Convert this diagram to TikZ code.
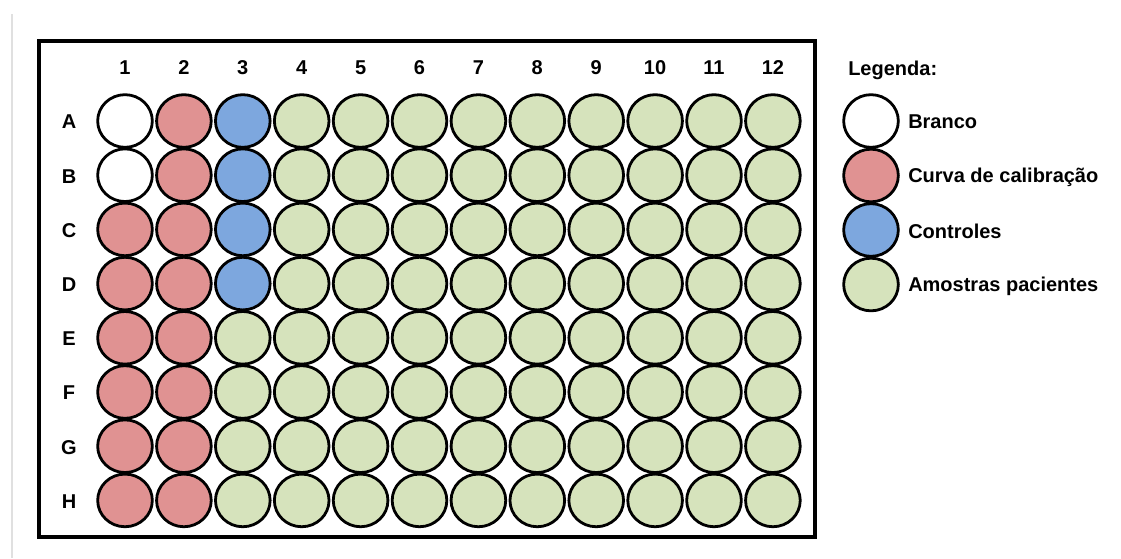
\documentclass[tikz,border=0pt]{standalone}
\usepackage{fontspec}
\setmainfont{Liberation Sans}
\usetikzlibrary{shapes.geometric}
\definecolor{wred}{RGB}{224,146,146}
\definecolor{wblue}{RGB}{125,167,222}
\definecolor{wgreen}{RGB}{214,227,188}
\tikzset{
  well/.style={ellipse, draw=black, line width=2.1pt, minimum width=41pt, minimum height=39.5pt, inner sep=0pt},
  lbl/.style={font=\bfseries\fontsize{15}{17}\selectfont, inner sep=0pt},
}
\begin{document}
\begin{tikzpicture}[x=0.75pt,y=-0.75pt]
\useasboundingbox (0,0) rectangle (1121,558);
\fill[white] (0,0) rectangle (1121,558);
\draw[black!12, line width=1.2pt] (12,14) -- (12,558);
\draw[line width=2.4pt] (39,41) rectangle (815,537);
% column labels
\foreach \c in {1,...,12}{
  \node[lbl] (col\c) at ({125+58.9*(\c-1)},68) {\c};
}
% row labels
\foreach \r/\L in {1/A,2/B,3/C,4/D,5/E,6/F,7/G,8/H}{
  \node[lbl] (row\L) at (69,{122+54.2*(\r-1)}) {\L};
}
% wells
\foreach \r/\L in {1/A,2/B,3/C,4/D,5/E,6/F,7/G,8/H}{
  \foreach \c in {1,...,12}{
    \def\col{wgreen}
    \ifnum\c=1
      \ifnum\r<3 \def\col{white}\else\def\col{wred}\fi
    \fi
    \ifnum\c=2 \def\col{wred}\fi
    \ifnum\c=3
      \ifnum\r<5 \def\col{wblue}\fi
    \fi
    \node[well, fill=\col] (w\L\c) at ({125+58.9*(\c-1)},{121+54.2*(\r-1)}) {};
  }
}
% legend
\node[lbl, anchor=west] (legtitle) at (848,70) {Legenda:};
\node[well, fill=white] (lg1) at (871,121) {};
\node[well, fill=wred] (lg2) at (871,175.5) {};
\node[well, fill=wblue] (lg3) at (871,230) {};
\node[well, fill=wgreen] (lg4) at (871,284.5) {};
\node[lbl, anchor=west] (lt1) at (908,122) {Branco};
\node[lbl, anchor=west] (lt2) at (908,177) {Curva de calibração};
\node[lbl, anchor=west] (lt3) at (908,231) {Controles};
\node[lbl, anchor=west] (lt4) at (908,286) {Amostras pacientes};
\end{tikzpicture}
\end{document}
